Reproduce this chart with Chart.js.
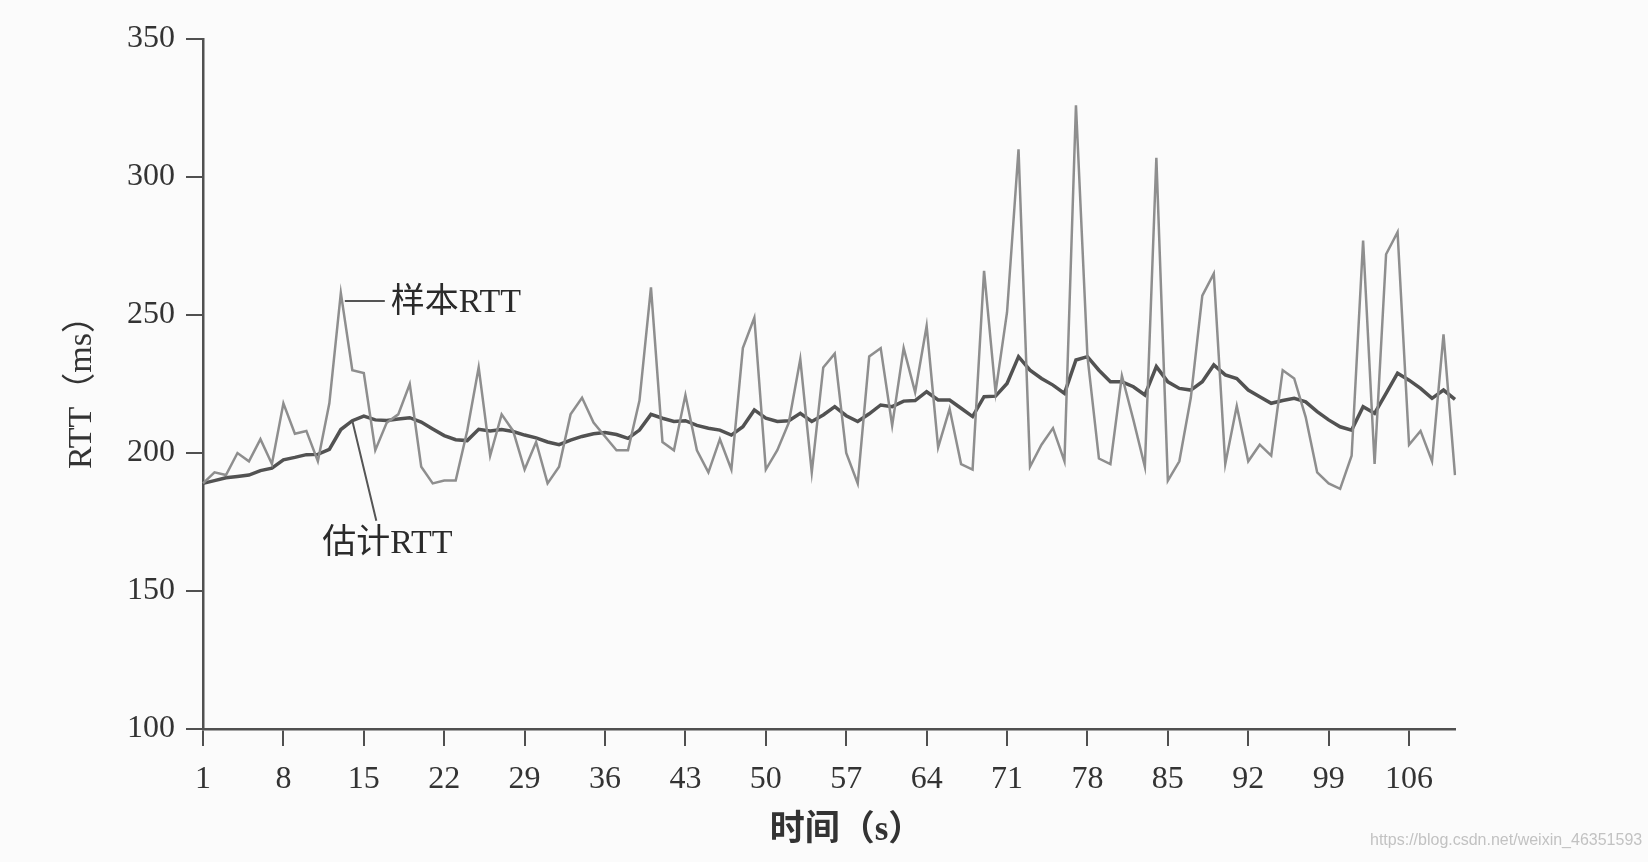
<!doctype html>
<html>
<head>
<meta charset="utf-8">
<title>RTT</title>
<script src="https://cdn.jsdelivr.net/npm/chart.js"></script>
<style>
  html, body { margin: 0; padding: 0; background: #fbfbfb; overflow: hidden; }
  #wrap { position: relative; width: 1648px; height: 862px; }
  #mark {
    position: absolute; left: 1370px; top: 831px;
    font: 16px "Liberation Sans", sans-serif; color: #c2c2c2;
  }
</style>
</head>
<body>
<div id="wrap">
  <canvas id="rttChart" width="1648" height="862"></canvas>
  <div id="mark">https://blog.csdn.net/weixin_46351593</div>
</div>
<script>
// time in seconds, 1..110
const times = [];
for (let i = 1; i <= 110; i++) times.push(String(i));

// measured round-trip times (ms)
const sampleRtt = [
  189, 193, 192, 200, 197, 205, 196, 218, 207, 208,
  197, 218, 258, 230, 229, 201, 211, 214, 225, 195,
  189, 190, 190, 208, 231, 199, 214, 208, 194, 204,
  189, 195, 214, 220, 211, 206, 201, 201, 219, 260,
  204, 201, 221, 201, 193, 205, 194, 238, 249, 194,
  201, 211, 234, 193, 231, 236, 200, 189, 235, 238,
  210, 238, 222, 246, 202, 216, 196, 194, 266, 222,
  251, 310, 195, 203, 209, 197, 326, 235, 198, 196,
  228, 212, 195, 307, 190, 197, 220, 257, 265, 196,
  217, 197, 203, 199, 230, 227, 213, 193, 189, 187,
  199, 277, 196, 272, 280, 203, 208, 197, 243, 192
];

// smoothed estimate (ms)
const estimatedRtt = [
  189, 190, 191, 191.5, 192, 193.6, 194.5, 197.5, 198.4, 199.4,
  199.5, 201.3, 208.5, 211.7, 213.4, 212, 211.8, 212.3, 212.8, 211.2,
  208.7, 206.3, 204.8, 204.5, 208.6, 208, 208.5, 207.8, 206.5, 205.5,
  204, 203, 204.7, 206, 207, 207.4, 206.7, 205.3, 208.3, 214,
  212.6, 211.4, 211.7, 210, 209, 208.3, 206.5, 209.5, 215.6, 212.6,
  211.4, 211.7, 214.4, 211.4, 213.8, 216.8, 213.5, 211.4, 214.2, 217.4,
  216.8, 218.8, 219, 222.2, 219.2, 219.2, 216.2, 213.2, 220.4, 220.6,
  225.2, 234.9, 230, 227, 224.6, 221.6, 233.7, 234.9, 230, 225.8,
  225.8, 224, 221, 231.3, 225.8, 223.4, 222.8, 225.8, 231.9, 228.3,
  227, 222.8, 220.4, 218, 219, 219.8, 218.5, 215, 212, 209.5,
  208.3, 216.8, 214.4, 221.6, 228.9, 226.4, 223.4, 219.8, 222.8, 219.4
];

const yTicks = [100, 150, 200, 250, 300, 350];
const tickEvery = 7;

const axisColor = "#505050";
const textColor = "#333333";
const serif = '"Liberation Serif", "DejaVu Serif", "Noto Sans CJK SC", serif';

// leader lines and labels next to the two curves
const callouts = {
  id: "callouts",
  afterDatasetsDraw(chart) {
    const ctx = chart.ctx;
    const p = chart.getDatasetMeta(0).data[12];
    const q = chart.getDatasetMeta(1).data[13];
    ctx.save();
    ctx.strokeStyle = "#555";
    ctx.lineWidth = 2;
    ctx.beginPath();
    ctx.moveTo(p.x + 4, p.y + 8);
    ctx.lineTo(p.x + 44, p.y + 8);
    ctx.moveTo(q.x, q.y);
    ctx.lineTo(q.x + 24, q.y + 100);
    ctx.stroke();
    ctx.fillStyle = "#2a2a2a";
    ctx.font = "34px " + serif;
    ctx.textBaseline = "middle";
    ctx.textAlign = "left";
    ctx.fillText("样本RTT", p.x + 50, p.y + 10);
    ctx.fillText("估计RTT", q.x - 30, q.y + 123);
    ctx.restore();
  },
};

const chart = new Chart(document.getElementById("rttChart"), {
  type: "line",
  data: {
    labels: times,
    datasets: [
      {
        label: "样本RTT",
        data: sampleRtt,
        borderColor: "#8e8e8e",
        borderWidth: 2.5,
        pointRadius: 0,
        tension: 0,
      },
      {
        label: "估计RTT",
        data: estimatedRtt,
        borderColor: "#525252",
        borderWidth: 3.5,
        pointRadius: 0,
        tension: 0,
      },
    ],
  },
  options: {
    responsive: false,
    animation: false,
    devicePixelRatio: 1,
    layout: { padding: { top: 39, right: 193, bottom: 0, left: 0 } },
    plugins: {
      legend: { display: false },
      tooltip: { enabled: false },
    },
    scales: {
      x: {
        type: "category",
        offset: false,
        afterFit: (s) => { s.height = 133; },
        border: { color: axisColor, width: 2.5 },
        grid: {
          drawOnChartArea: false,
          drawTicks: true,
          tickLength: 17,
          lineWidth: 2,
          color: (c) => (c.index % tickEvery === 0 ? axisColor : "rgba(0,0,0,0)"),
        },
        ticks: {
          autoSkip: false,
          maxRotation: 0,
          padding: 14,
          color: textColor,
          font: { family: serif, size: 32 },
          callback: (v, i) => (i % tickEvery === 0 ? times[i] : ""),
        },
        title: {
          display: true,
          text: "\u3000时间（s）",
          color: textColor,
          font: { family: serif, size: 35, weight: "bold" },
          padding: { top: 0, bottom: 10 },
        },
      },
      y: {
        min: yTicks[0],
        max: yTicks[yTicks.length - 1],
        afterFit: (s) => { s.width = 203; },
        afterBuildTicks: (s) => { s.ticks = yTicks.map((v) => ({ value: v })); },
        border: { color: axisColor, width: 2.5 },
        grid: {
          drawOnChartArea: false,
          drawTicks: true,
          tickLength: 17,
          lineWidth: 2,
          color: axisColor,
        },
        ticks: {
          padding: 11,
          color: textColor,
          font: { family: serif, size: 32 },
        },
        title: {
          display: true,
          text: "RTT（ms）",
          color: textColor,
          font: { family: serif, size: 34 },
          padding: { top: 62, bottom: 0 },
        },
      },
    },
  },
  plugins: [callouts],
});
</script>
</body>
</html>
